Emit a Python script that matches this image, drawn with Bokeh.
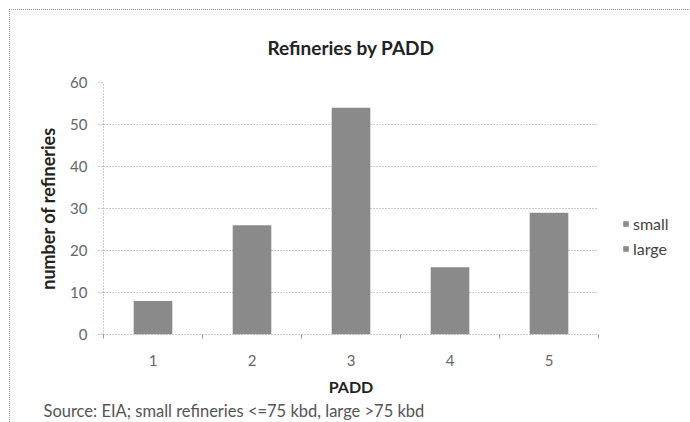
from bokeh.plotting import figure
from bokeh.models import Range1d, FixedTicker, Legend, LegendItem, ColumnDataSource, Title
from bokeh.embed import file_html
from bokeh.resources import INLINE

# ---- data ----
padd = ["1", "2", "3", "4", "5"]
small = [8, 26, 54, 16, 29]
large = [0, 0, 0, 0, 0]
y_ticks = [0, 10, 20, 30, 40, 50, 60]

title_text = "Refineries by PADD"
source_text = "Source: EIA; small refineries <=75 kbd, large >75 kbd"

xpos = [i + 1 for i in range(len(padd))]
src = ColumnDataSource(dict(x=xpos, small=small, large=large))

FONT = "Lato"
TXT = "#555555"

p = figure(frame_width=495, frame_height=252, output_backend="svg", toolbar_location=None,
           x_range=Range1d(0.5, len(padd) + 0.5), y_range=Range1d(0, 60),
           min_border_left=93, min_border_right=92, min_border_top=72, min_border_bottom=88)
p.outline_line_color = None
p.background_fill_color = "white"
p.border_fill_color = "white"
p.styles = {"margin-left": "9px", "margin-top": "9px",
            "border-left": "1px dotted #999999", "border-top": "1px dotted #999999"}

rs = p.vbar_stack(["small", "large"], x="x", width=0.39, source=src,
                  fill_color=["#8a8a8a", "#8a8a8a"], line_color=None)

# title
p.title.text = title_text
p.title.align = "center"
p.title.text_font = FONT
p.title.text_font_size = "19px"
p.title.text_font_style = "bold"
p.title.text_color = "#222222"
p.title.standoff = 47
p.title.offset = -5

# axes
p.xaxis.ticker = FixedTicker(ticks=xpos, minor_ticks=[x - 0.5 for x in xpos] + [xpos[-1] + 0.5])
p.xaxis.major_label_overrides = {x: lab for x, lab in zip(xpos, padd)}
p.xaxis.major_tick_out = 0
p.xaxis.major_tick_in = 0
p.xaxis.minor_tick_out = 4
p.xaxis.minor_tick_in = 0
p.xaxis.minor_tick_line_color = "#999999"
p.xaxis.axis_line_color = "#999999"
p.xaxis.axis_line_dash = "1 2"
p.xaxis.major_label_standoff = 16
p.xaxis.axis_label = "PADD"
p.xaxis.axis_label_standoff = 8
p.xaxis.axis_label_text_font_size = "16px"

p.yaxis.ticker = FixedTicker(ticks=y_ticks)
p.yaxis.major_tick_out = 5
p.yaxis.major_tick_in = 0
p.yaxis.major_tick_line_color = "#999999"
p.yaxis.major_tick_line_dash = "1 2"
p.yaxis.minor_tick_line_color = None
p.yaxis.axis_line_color = "#999999"
p.yaxis.axis_line_dash = "1 2"
p.yaxis.major_label_standoff = 11
p.yaxis.axis_label = "number of refineries"
p.yaxis.axis_label_standoff = 8
p.yaxis.axis_label_text_font_size = "18px"

for ax in (p.xaxis[0], p.yaxis[0]):
    ax.major_label_text_font = FONT
    ax.major_label_text_font_size = "15px"
    ax.major_label_text_color = "#666666"
    ax.axis_label_text_font = FONT
    ax.axis_label_text_font_style = "bold"
    ax.axis_label_text_color = "#222222"

p.xgrid.grid_line_color = None
p.ygrid.grid_line_color = "#999999"
p.ygrid.grid_line_dash = "1 2"
p.ygrid.ticker = FixedTicker(ticks=y_ticks[1:])

# source note below the axis
p.add_layout(Title(text=source_text, align="left", offset=-60, standoff=1,
                   text_font=FONT, text_font_size="16.5px", text_font_style="normal",
                   text_color=TXT), "below")

legend = Legend(items=[LegendItem(label="small", renderers=[rs[0]]),
                       LegendItem(label="large", renderers=[rs[1]])],
                location=(24, 76), orientation="vertical",
                glyph_width=7, glyph_height=7, label_height=19, spacing=6,
                label_standoff=4, padding=0, margin=0,
                border_line_color=None, background_fill_alpha=0,
                label_text_font=FONT, label_text_font_size="16px", label_text_color="#444444")
p.add_layout(legend, "right")

open("out.html", "w").write(file_html(p, INLINE))
